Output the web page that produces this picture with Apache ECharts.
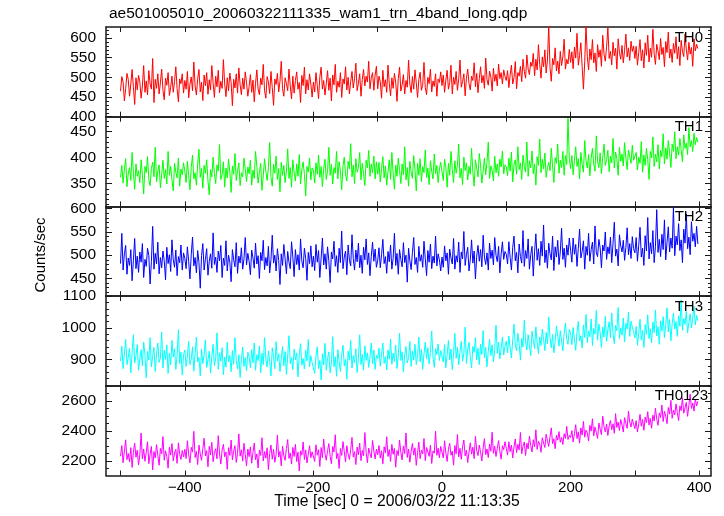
<!DOCTYPE html>
<html><head><meta charset="utf-8">
<script src="https://cdn.jsdelivr.net/npm/echarts@6/dist/echarts.min.js"></script>
<style>html,body{margin:0;padding:0;background:#fff}#c{width:724px;height:516px}</style>
</head><body><div id="c"></div>
<script>
const TITLE = 'ae501005010_20060322111335_wam1_trn_4band_long.qdp';
const X_TITLE = 'Time [sec] 0 = 2006/03/22 11:13:35';
const Y_TITLE = 'Counts/sec';
const BANDS = ['TH0', 'TH1', 'TH2', 'TH3', 'TH0123'];
const TIME_START = -500, TIME_STEP = 2;
const X_MIN = -522.6, X_MAX = 418.4;
const X_TICKS = [-500, -400, -300, -200, -100, 0, 100, 200, 300, 400];
const X_LABELS = [-400, -200, 0, 200, 400];

const TH0 = [
465,502,488,440,471,510,495,452,483,520,476,431,499,468,505,489,447,478,530,462,491,455,517,483,470,548,436,495,472,509,458,486,521,467,443,498,480,512,454,475,503,462,489,527,471,438,496,484,509,460,
492,470,515,448,483,501,466,539,478,455,497,520,463,488,441,506,479,512,457,494,468,530,485,449,503,476,518,461,490,472,545,483,451,499,466,511,487,428,495,473,509,460,524,481,456,498,470,514,486,452,
477,507,462,493,438,485,519,470,456,498,481,533,466,447,502,488,459,515,474,429,496,482,510,463,490,541,471,452,499,484,466,521,478,445,503,460,492,514,470,487,436,505,479,526,458,494,468,509,483,450,
488,463,512,479,446,501,526,470,492,455,484,517,467,498,440,506,481,533,462,490,475,512,449,496,483,527,468,500,458,489,515,473,497,536,466,485,509,452,494,520,478,503,488,541,471,499,512,467,506,528,
471,503,489,447,518,476,494,462,531,485,453,499,472,510,488,439,497,526,465,481,507,458,492,475,544,483,461,502,470,519,486,449,495,513,467,480,538,474,456,500,484,521,463,491,477,509,452,496,487,514,
479,506,462,493,518,470,487,531,458,500,482,515,467,496,544,475,489,509,453,498,521,484,468,503,492,537,476,510,461,497,527,486,505,472,549,494,480,516,501,465,523,490,508,478,534,497,512,483,519,502,
492,517,474,506,531,483,499,540,471,512,503,528,489,546,515,498,557,521,507,539,528,561,504,546,519,583,533,498,552,527,570,511,544,631,525,490,548,532,575,516,541,509,566,530,552,597,521,546,534,571,
538,565,522,577,549,612,531,556,588,527,470,540,634,553,519,572,545,596,537,562,515,583,551,570,528,607,559,541,578,626,548,566,532,589,555,574,521,598,563,546,581,537,569,610,552,575,543,592,566,580,
548,579,531,563,596,542,570,524,588,556,607,539,574,551,622,560,533,584,567,545,599,558,576,527,591,563,615,549,572,538,586,561,603,547,578,530,594,566,553,610,571,544,589,559,576,528,598,567,584,573];

const TH1 = [
362,385,351,377,398,344,369,381,356,410,372,339,388,364,375,352,396,367,330,383,371,402,358,346,379,391,363,420,354,374,386,342,368,395,360,377,349,412,366,383,357,336,389,372,361,399,345,378,367,390,
374,352,393,366,338,381,405,359,371,347,388,416,362,379,341,385,370,396,355,328,377,363,401,369,350,386,374,425,358,367,392,343,380,361,397,372,333,384,368,408,356,375,390,346,371,363,399,378,354,382,
369,395,347,376,360,412,383,351,372,389,337,365,398,374,356,381,429,362,345,387,370,403,358,379,334,391,366,385,352,374,417,360,381,343,396,371,355,388,364,406,349,377,392,368,326,383,372,399,357,380,
376,351,390,368,405,362,383,344,379,397,358,374,420,366,387,349,381,370,412,359,392,375,338,384,401,367,355,393,378,427,363,386,350,398,372,381,410,357,389,369,346,395,380,414,364,388,371,403,359,392,
368,391,353,379,402,361,384,347,373,396,358,410,370,339,386,364,399,375,350,388,367,421,357,381,345,393,372,360,404,377,336,389,366,398,354,383,371,415,362,380,348,394,374,359,407,369,385,352,378,391,
373,356,397,381,343,389,366,412,377,352,394,370,385,426,361,379,348,401,375,390,357,383,368,418,372,345,396,380,363,408,386,351,374,399,367,391,430,360,384,376,355,403,371,388,364,397,382,413,369,386,
382,365,399,374,411,353,387,396,368,421,377,390,358,405,383,372,430,364,394,380,413,369,388,347,402,385,436,371,397,378,409,362,381,391,375,418,384,352,400,389,426,370,395,381,412,366,404,387,476,398,
379,404,367,395,421,383,398,359,410,387,372,433,394,380,406,365,399,418,388,374,442,392,381,409,369,401,426,385,396,414,373,403,390,437,380,411,398,366,420,393,407,384,429,399,377,415,402,389,424,395,
394,410,376,401,389,431,372,405,385,418,396,358,412,399,440,383,407,392,425,378,414,402,446,388,419,397,433,409,381,426,412,450,398,421,405,437,415,392,444,418,428,406,458,421,433,412,447,425,439,430];

const TH2 = [
482,547,468,503,521,459,494,478,512,445,489,536,471,498,463,507,485,525,452,491,476,515,499,438,486,562,470,504,481,528,460,495,473,509,488,447,517,482,501,465,533,490,474,511,456,497,484,522,468,505,
493,471,518,486,449,502,539,477,495,462,510,484,429,499,525,468,491,514,457,487,503,472,548,480,496,463,509,488,521,452,494,478,531,466,500,485,443,512,490,475,527,461,498,483,516,470,492,538,479,504,
487,458,511,494,472,526,481,499,450,506,488,532,469,495,477,519,462,491,543,483,500,466,514,489,437,503,478,523,492,460,508,485,471,529,496,454,512,480,501,468,535,487,473,515,493,446,506,482,520,475,
498,467,523,485,510,452,494,537,479,503,470,518,488,441,507,492,530,476,499,463,515,484,552,471,496,509,458,522,489,477,544,493,468,511,486,526,473,500,461,517,490,535,480,505,456,498,528,487,513,474,
489,516,473,501,534,482,497,461,508,486,522,470,493,547,478,504,459,512,491,475,527,484,500,442,515,488,469,506,538,480,495,463,519,487,501,474,530,492,456,510,485,524,471,498,483,541,477,503,490,466,
496,474,520,488,505,459,513,494,481,536,470,499,485,528,463,507,492,551,478,501,517,466,490,533,483,509,449,498,521,487,512,475,543,496,480,505,468,526,493,511,479,538,500,486,519,462,503,529,491,508,
502,481,529,495,468,517,541,488,506,462,524,497,483,553,476,510,493,535,470,501,519,455,508,546,489,514,478,530,498,565,484,511,472,526,503,490,541,467,518,496,532,480,507,558,491,515,474,522,500,537,
511,485,537,502,523,476,515,556,494,508,531,470,519,500,547,487,512,528,481,563,505,497,534,516,473,522,509,550,491,518,503,539,484,526,571,498,513,477,544,520,507,532,489,517,559,501,525,493,540,514,
505,538,487,521,560,496,515,478,542,509,581,492,527,503,553,484,519,598,506,534,497,545,512,576,490,528,561,507,537,515,603,499,541,522,568,510,533,484,556,526,589,514,539,501,572,530,547,518,562,524];

const TH3 = [
895,942,871,918,963,884,907,935,858,921,978,889,912,947,866,903,931,880,955,915,842,926,898,969,877,910,938,862,917,952,891,905,987,873,929,900,946,856,920,883,960,908,934,869,913,994,887,924,851,915,
930,878,911,957,884,902,940,863,919,971,892,906,848,933,887,915,962,875,899,926,857,910,948,881,903,984,869,921,895,937,852,908,876,954,893,912,861,928,885,969,897,870,915,843,901,939,878,906,864,923,
908,874,931,889,952,866,915,897,943,858,920,884,969,901,876,927,893,848,937,910,871,956,895,918,862,904,941,880,925,853,911,975,887,906,868,933,899,921,845,914,950,882,903,870,929,896,963,877,912,890,
889,856,912,940,871,897,835,918,883,951,866,903,924,858,890,972,877,909,847,931,894,862,915,945,880,901,838,926,898,960,873,912,889,934,859,905,978,884,916,866,943,897,921,875,908,952,886,930,869,913,
903,936,879,917,952,888,909,867,930,901,964,885,920,894,945,872,911,983,897,924,860,915,941,889,906,957,878,927,899,948,884,913,971,893,932,869,918,955,902,937,886,922,990,908,875,934,916,949,897,928,
925,892,947,874,915,960,899,933,868,921,982,904,939,883,926,957,895,918,1002,887,930,954,908,873,941,922,969,899,935,884,948,916,991,905,938,877,927,963,912,946,893,931,1008,919,955,902,936,971,914,943,
958,921,974,936,905,962,1011,944,927,983,951,898,967,939,1024,955,930,978,946,912,989,960,935,1003,952,919,971,944,996,963,928,985,950,1034,968,937,979,921,957,1006,973,942,991,958,927,982,1015,964,948,995,
982,947,1001,963,929,987,1020,958,975,936,1009,969,1042,953,990,972,1028,944,998,980,1055,961,1012,985,938,1003,971,1036,957,994,1019,968,1047,983,950,1008,991,1064,966,1000,977,1031,955,1014,996,1049,973,1021,1002,988,
968,1004,945,983,1027,961,992,938,1010,979,1041,966,997,952,1018,985,1056,974,1003,948,1022,990,1035,969,1008,1063,987,1026,959,1013,1047,996,1020,973,1038,1005,1088,992,1029,1011,1052,984,1017,1044,1000,1033,1068,1009,1039,1022];

const TH0123 = [
2231,2302,2187,2265,2340,2208,2249,2193,2288,2156,2257,2318,2224,2271,2172,2240,2385,2213,2279,2197,2256,2327,2181,2244,2296,2139,2262,2219,2308,2235,2170,2283,2246,2362,2204,2267,2228,2151,2291,2238,2315,2199,2252,2276,2183,2320,2242,2209,2269,2226,
2277,2215,2334,2241,2186,2290,2258,2397,2222,2263,2175,2305,2247,2203,2283,2351,2232,2268,2160,2297,2239,2324,2194,2256,2281,2213,2368,2245,2178,2272,2310,2227,2259,2143,2288,2236,2339,2206,2264,2301,2189,2250,2380,2231,2274,2198,2317,2243,2166,2279,
2228,2293,2184,2255,2319,2207,2246,2152,2271,2236,2354,2199,2262,2218,2287,2141,2249,2305,2211,2276,2190,2241,2372,2225,2264,2167,2298,2234,2203,2281,2342,2216,2253,2178,2290,2229,2310,2195,2258,2132,2267,2238,2326,2209,2273,2186,2245,2301,2221,2260,
2253,2196,2307,2238,2274,2162,2289,2221,2345,2247,2204,2268,2315,2230,2181,2296,2259,2374,2215,2250,2149,2282,2236,2328,2263,2192,2301,2244,2209,2277,2356,2225,2261,2175,2292,2240,2318,2201,2270,2233,2389,2256,2187,2285,2248,2219,2336,2266,2212,2279,
2241,2302,2218,2267,2180,2294,2253,2361,2229,2275,2196,2310,2244,2283,2158,2269,2235,2339,2257,2206,2298,2248,2386,2222,2279,2191,2263,2316,2238,2287,2170,2255,2325,2214,2272,2246,2349,2201,2289,2260,2230,2305,2182,2266,2251,2398,2237,2284,2220,2296,
2289,2219,2334,2252,2196,2278,2317,2238,2265,2171,2302,2247,2376,2226,2284,2210,2295,2339,2233,2271,2188,2259,2320,2244,2291,2215,2363,2268,2235,2305,2257,2199,2286,2348,2241,2279,2222,2312,2264,2391,2250,2297,2229,2283,2335,2262,2211,2301,2274,2328,
2284,2238,2327,2261,2305,2219,2292,2346,2255,2310,2273,2389,2247,2298,2326,2236,2318,2280,2365,2302,2259,2341,2293,2407,2276,2330,2312,2257,2354,2319,2289,2378,2333,2296,2361,2420,2315,2347,2281,2372,2338,2395,2324,2356,2309,2381,2349,2430,2342,2370,
2355,2402,2326,2381,2441,2349,2394,2318,2420,2372,2463,2358,2405,2386,2332,2437,2398,2481,2367,2426,2390,2350,2452,2411,2375,2498,2428,2393,2446,2369,2434,2470,2408,2447,2384,2515,2423,2459,2401,2476,2440,2392,2488,2449,2417,2532,2458,2426,2479,2443,
2415,2468,2392,2447,2510,2431,2476,2404,2492,2455,2528,2439,2483,2417,2505,2466,2551,2478,2437,2520,2489,2573,2462,2531,2497,2448,2556,2512,2604,2484,2539,2506,2580,2523,2469,2567,2535,2622,2518,2554,2590,2497,2571,2645,2549,2586,2532,2613,2566,2598];

const SERIES_VALUES = [TH0, TH1, TH2, TH3, TH0123];
const Y_MIN = [400, 306, 412, 817, 2102];
const Y_MAX = [628, 479, 605, 1100, 2701];
const Y_LABELS = [[400,450,500,550,600],[350,400,450],[450,500,550,600],[900,1000,1100],[2200,2400,2600]];
const Y_MAJOR = Y_LABELS;
const Y_MINOR = [
  [410,420,430,440,460,470,480,490,510,520,530,540,560,570,580,590,610,620],
  [310,320,330,340,360,370,380,390,410,420,430,440,460,470],
  [420,430,440,460,470,480,490,510,520,530,540,560,570,580,590],
  [820,840,860,880,920,940,960,980,1020,1040,1060,1080],
  [2150,2250,2300,2350,2450,2500,2550,2650,2700]
];
const COLORS = ['#ff0000', '#00ff00', '#0000ff', '#00ffff', '#ff00ff'];

const chart = echarts.init(document.getElementById('c'), null, {renderer: 'canvas'});
const FONT = 'Liberation Sans, Arial, Helvetica, sans-serif';
const TOPS = [27, 116.7, 206.4, 296.1, 385.8];
const LABEL_RIGHT = [703, 703, 703, 703, 708];
const H = 89.7, LEFT = 106, WIDTH = 605;
const AX = '#1a1a1a';

const grid = [], xAxis = [], yAxis = [], series = [], graphic = [];
for (let k = 0; k < 5; k++) {
  grid.push({left: LEFT, top: TOPS[k], width: WIDTH, height: H});
  ['bottom', 'top'].forEach((pos, j) => {
    xAxis.push({
      type: 'value', gridIndex: k, position: pos, min: X_MIN, max: X_MAX,
      splitLine: {show: false},
      axisLine: {show: true, onZero: false, lineStyle: {color: AX, width: 1.5}},
      axisTick: {show: true, inside: true, length: 5, customValues: X_TICKS, lineStyle: {color: AX, width: 1}},
      axisLabel: (k === 4 && j === 0) ? {
        show: true, customValues: X_LABELS, fontSize: 15, fontFamily: FONT, color: '#000', margin: 5,
        formatter: v => (v < 0 ? '\u2212' + Math.abs(v) : String(v))
      } : {show: false}
    });
  });
  ['left', 'right'].forEach((pos, j) => {
    yAxis.push({
      type: 'value', gridIndex: k, position: pos, min: Y_MIN[k], max: Y_MAX[k],
      splitLine: {show: false},
      axisLine: {show: true, onZero: false, lineStyle: {color: AX, width: 1.5}},
      axisTick: {show: true, inside: true, length: 6, customValues: Y_MAJOR[k], lineStyle: {color: AX, width: 1}},
      axisLabel: j === 0 ? {show: true, customValues: Y_LABELS[k], fontSize: 15.5, fontFamily: FONT, color: '#000', margin: 10, formatter: v => String(v)} : {show: false}
    });
  });
  ['left', 'right'].forEach(pos => {
    yAxis.push({
      type: 'value', gridIndex: k, position: pos, min: Y_MIN[k], max: Y_MAX[k],
      splitLine: {show: false},
      axisLine: {show: false, onZero: false},
      axisTick: {show: true, inside: true, length: 3, customValues: Y_MINOR[k], lineStyle: {color: AX, width: 1}},
      axisLabel: {show: false}
    });
  });
  const data = SERIES_VALUES[k].map((v, i) => [TIME_START + i * TIME_STEP, v]);
  series.push({
    type: 'line', xAxisIndex: 2 * k, yAxisIndex: 4 * k, data, showSymbol: false, silent: true,
    lineStyle: {color: COLORS[k], width: 1}, z: 2
  });
  graphic.push({
    type: 'text', x: LABEL_RIGHT[k], y: TOPS[k] + 3, z: 10,
    style: {text: BANDS[k], font: '15px ' + FONT, fill: '#000', textAlign: 'right', textVerticalAlign: 'top'}
  });
}
graphic.push({type: 'text', x: 109, y: 6, style: {text: TITLE, font: '15.5px ' + FONT, fill: '#000', textVerticalAlign: 'top'}});
graphic.push({type: 'text', x: 397, y: 494, style: {text: X_TITLE, font: '15.7px ' + FONT, fill: '#000', textAlign: 'center', textVerticalAlign: 'top'}});
graphic.push({type: 'text', x: 41, y: 255, rotation: Math.PI / 2, style: {text: Y_TITLE, font: '15px ' + FONT, fill: '#000', textAlign: 'center', textVerticalAlign: 'middle'}});

chart.setOption({animation: false, backgroundColor: '#fff', grid, xAxis, yAxis, series, graphic});
</script></body></html>
